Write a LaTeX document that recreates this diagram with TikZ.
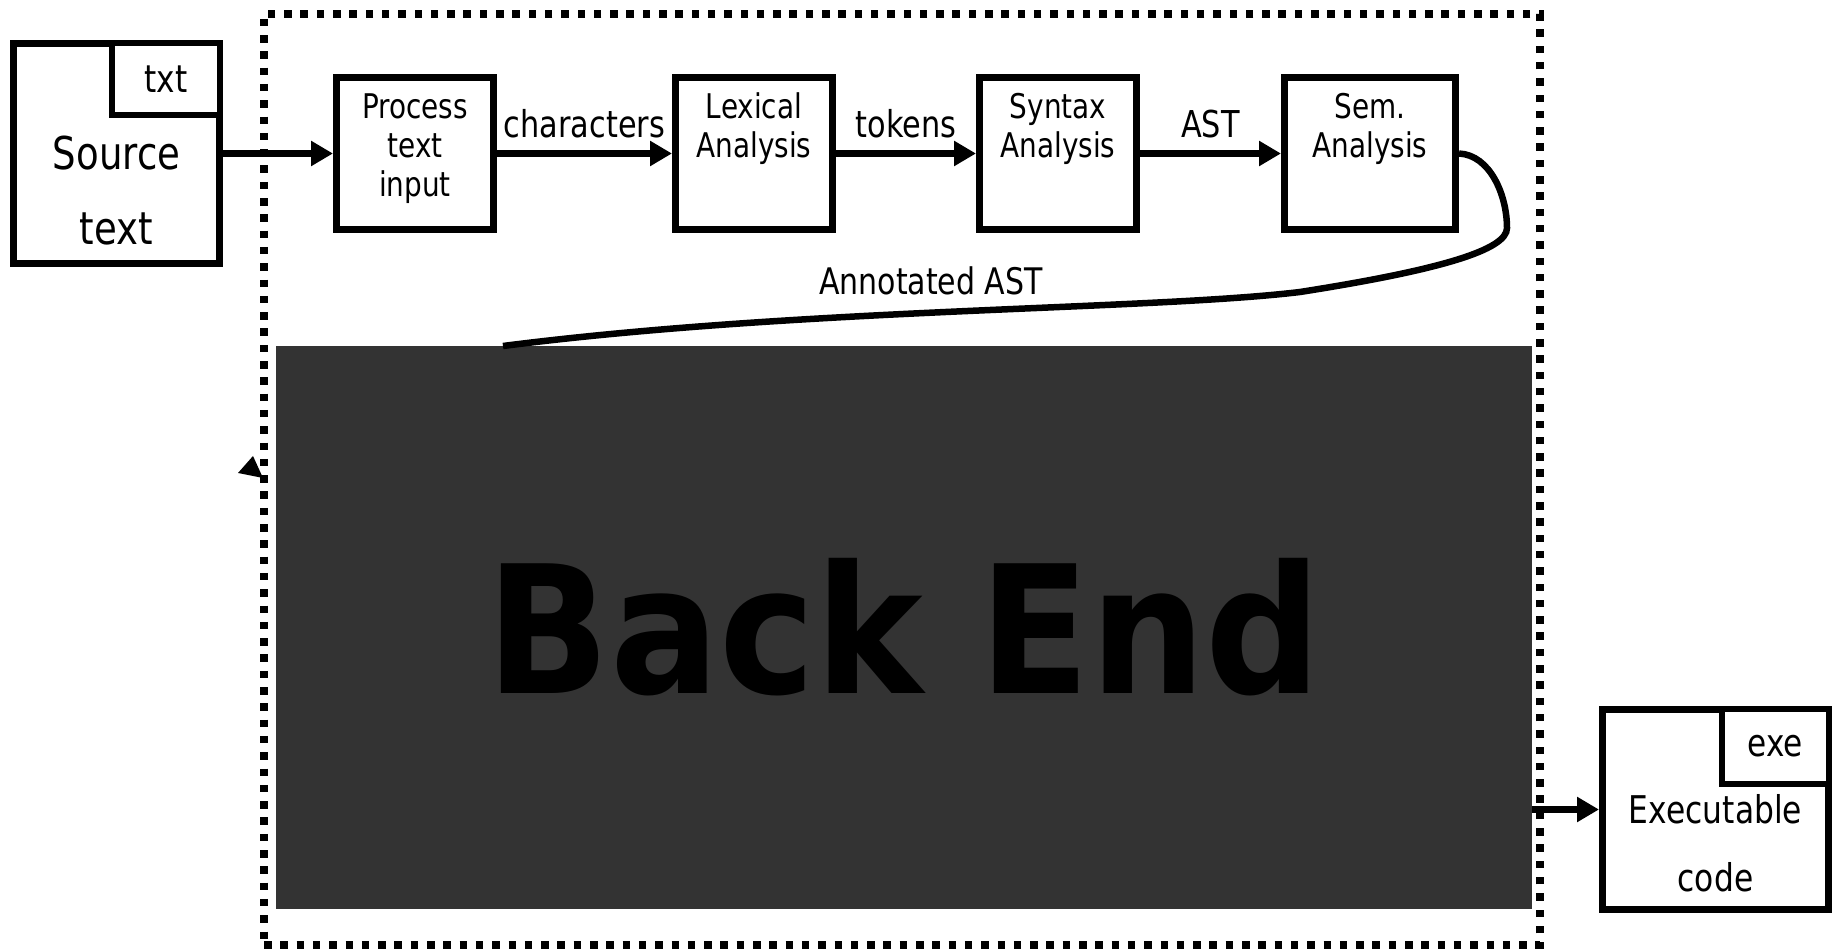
\documentclass[tikz,border=0pt]{standalone}
\usepackage{fontspec}
\setmainfont{DejaVu Sans}[FakeStretch=0.82]
\newfontfamily\headfont{DejaVu Sans}[FakeStretch=0.91]
\usetikzlibrary{arrows.meta}
\begin{document}
\begin{tikzpicture}[x=0.5pt,y=-0.5pt,
  box/.style={draw, line width=3.5pt, fill=white, inner sep=0pt},
  stagebox/.style={box, minimum width=78.5pt, minimum height=76pt},
  tagbox/.style={draw, line width=3pt, fill=white, inner sep=0pt, anchor=north east,
    font=\fontsize{19}{22}\selectfont},
  % text nodes are placed by the baseline of their last line
  stagetext/.style={anchor=base, yshift=-42pt, align=center, inner sep=0pt,
    font=\fontsize{17}{19.5}\selectfont},
  stagetextiii/.style={stagetext, yshift=-19.5pt},
  doctext/.style={anchor=base, align=center, inner sep=0pt},
  flow/.style={line width=3.5pt, -{Triangle[length=11pt,width=12pt]}},
  lbl/.style={anchor=base, inner sep=0pt, font=\fontsize{18.5}{21}\selectfont},
  frame/.style={draw, line width=3.75pt, dash pattern=on 3.75pt off 4.4pt, inner sep=0pt},
  curve/.style={line width=3.25pt},
]
\useasboundingbox (0,0) rectangle (1833,952);

% front-end frame
\node[frame, minimum width=638pt, minimum height=465.6pt] (front) at (902,479.4) {};

% back end block
\node[fill=black!80, minimum width=628pt, minimum height=281.5pt, inner sep=0pt,
      font=\headfont\bfseries\fontsize{89}{95}\selectfont] (backend) at (904,627.5) {Back End};

% input document
\node[box, minimum width=103pt, minimum height=110pt] (src) at (116.5,153.5) {};
\node[tagbox, minimum width=54pt, minimum height=36pt] (srctag) at (src.north east) {txt};
\node[doctext, font=\fontsize{22.6}{37.5}\selectfont] (srctext) at (116.5,245) {Source\\text};

% output document
\node[box, minimum width=113pt, minimum height=100pt] (exe) at (1715.5,809.5) {};
\node[tagbox, minimum width=53.5pt, minimum height=37.5pt] (exetag) at (exe.north east) {exe};
\node[doctext, font=\fontsize{19.1}{34}\selectfont] (exetext) at (1715.5,891) {Executable\\code};

% front-end stages
\node[stagebox] (proc) at (415,153.5) {};
\node[stagebox] (lex)  at (754,153.5) {};
\node[stagebox] (syn)  at (1058,153.5) {};
\node[stagebox, minimum width=85.5pt] (sem) at (1370,153.5) {};
\node[stagetextiii] (proct) at (proc.north) {Process\\text\\input};
\node[stagetext] (lext)  at (lex.north) {Lexical\\Analysis};
\node[stagetext] (synt)  at (syn.north) {Syntax\\Analysis};
\node[stagetext] (semt)  at (sem.north) {Sem.\\Analysis};

% connectors
\draw[flow] (src.east |- proc.west) -- (proc.west);
\draw[flow] (proc.east) -- (lex.west) node[lbl, midway, yshift=8pt] {characters};
\draw[flow] (lex.east) -- (syn.west) node[lbl, midway, yshift=8pt] {tokens};
\draw[flow] (syn.east) -- (sem.west) node[lbl, midway, yshift=8pt] {AST};
\draw[flow] (backend.east |- exe.west) -- (exe.west);

% annotated tree handed to the back end
\coordinate (bend) at (1507,228);
\coordinate (knee) at (1300,292);
\coordinate (entry) at (503,346);
\draw[curve] (sem.east) .. controls (1490,155) and (1507,195) .. (bend)
  .. controls (1507,250) and (1440,270) .. (knee)
  .. controls (1150,310) and (800,308) .. (entry);
\node[lbl, font=\fontsize{18.3}{21}\selectfont] (annot) at (931,295) {Annotated AST};

% stray arrowhead on the frame
\fill (238,473) -- (253,456) -- (263,478) -- cycle;
\end{tikzpicture}
\end{document}
